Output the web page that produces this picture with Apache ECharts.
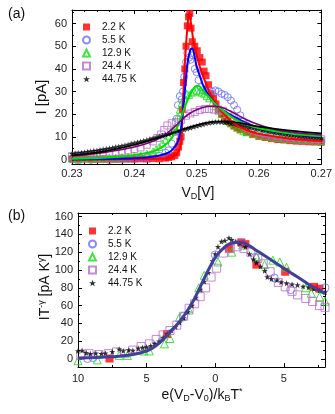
<!DOCTYPE html>
<html>
<head>
<meta charset="utf-8">
<script src="https://cdn.jsdelivr.net/npm/echarts@6/dist/echarts.min.js"></script>
<style>
  html, body { margin: 0; padding: 0; background: #fff; }
  #main { width: 335px; height: 414px; }
</style>
</head>
<body>
<div id="main"></div>
<script>
// legend names (same for both panels)
const names = ['2.2 K', '5.5 K', '12.9 K', '24.4 K', '44.75 K'];

// tick labels
const xTicksA = [0.23, 0.24, 0.25, 0.26, 0.27];
const yTicksA = [0, 10, 20, 30, 40, 50, 60];
const xTicksB = [-10, -5, 0, 5];
const yTicksB = [0, 20, 40, 60, 80, 100, 120, 140, 160];

// (a) I vs V_D, measured points [V, pA]
const redA = [[0.230,0.2],[0.231,0.1],[0.232,0.3],[0.233,0.2],[0.234,0.1],[0.235,0.3],[0.236,0.2],[0.237,0.1],[0.238,0.3],[0.239,0.2],[0.240,0.2],[0.241,0.3],[0.242,0.2],[0.243,0.4],[0.244,0.3],[0.245,0.6],[0.2455,0.9],[0.246,1.2],[0.2465,1.8],[0.2468,3],[0.2471,5.5],[0.2473,8],[0.2475,10],[0.2477,22],[0.2479,34],[0.2481,40],[0.2483,50],[0.2485,59],[0.2487,63],[0.2489,64.5],[0.2491,58],[0.2493,52],[0.2497,50],[0.2501,48],[0.2505,45],[0.2509,43],[0.2512,39],[0.2515,37],[0.2519,33],[0.2523,29],[0.2527,27],[0.2531,24.5],[0.2535,22],[0.254,20],[0.2545,18.5],[0.255,17],[0.2555,15.8],[0.256,14.8],[0.2565,14],[0.257,13.2],[0.258,12],[0.259,11],[0.260,10.2],[0.261,9.7],[0.262,9.2],[0.263,8.8],[0.264,8.6],[0.265,8.3],[0.266,8.1],[0.267,8],[0.268,7.8],[0.269,7.7],[0.270,7.6]];
const blueA = [[0.230,0],[0.231,-0.3],[0.232,0.2],[0.233,-0.2],[0.234,0.1],[0.235,0],[0.236,-0.3],[0.237,0.2],[0.238,0],[0.239,0.3],[0.240,0.2],[0.241,0.6],[0.242,0.8],[0.243,1.2],[0.244,1.6],[0.245,3],[0.2455,4],[0.246,7],[0.2465,12],[0.2468,18],[0.247,24],[0.2473,28],[0.2476,26.5],[0.2478,30],[0.248,36.5],[0.2483,43],[0.2485,47],[0.2488,45],[0.249,44],[0.2493,46],[0.2497,40],[0.250,38.5],[0.2503,35],[0.2507,32],[0.251,30.5],[0.2515,30],[0.252,29.5],[0.2525,30],[0.253,30.5],[0.2535,30],[0.254,29],[0.2545,28.5],[0.255,27.5],[0.2555,26],[0.256,24],[0.2565,22],[0.257,19.5],[0.2575,17],[0.258,15],[0.259,13],[0.260,11.8],[0.261,11],[0.262,10.3],[0.263,9.8],[0.264,9.4],[0.265,9],[0.266,8.8],[0.267,8.5],[0.268,8.3],[0.269,8.1],[0.270,8]];
const greenA = [[0.230,0.5],[0.231,0],[0.232,0.6],[0.233,0.2],[0.234,0.7],[0.235,0.4],[0.236,0.9],[0.237,0.8],[0.238,1.1],[0.239,1.2],[0.240,1.6],[0.241,1.8],[0.242,2.6],[0.243,3.5],[0.2435,4.5],[0.244,5.5],[0.2445,7],[0.245,8.5],[0.2455,10.5],[0.246,12.5],[0.2465,14.5],[0.247,19],[0.2473,22],[0.2476,25],[0.248,27],[0.2484,29],[0.2488,28.5],[0.2492,29.5],[0.2496,30],[0.250,30.5],[0.2504,30],[0.2508,29.5],[0.2512,29],[0.2516,28],[0.252,27],[0.2525,25],[0.253,23.5],[0.2535,21.5],[0.254,20],[0.2545,18.5],[0.255,17],[0.2555,16],[0.256,15],[0.2565,14],[0.257,13.2],[0.2575,12.5],[0.258,12],[0.259,11.2],[0.260,10.7],[0.261,10.2],[0.262,9.8],[0.263,9.5],[0.264,9.2],[0.265,9],[0.266,8.8],[0.267,8.6],[0.268,8.5],[0.269,8.3],[0.270,8.2]];
const purpleA = [[0.230,1.5],[0.231,1.8],[0.232,2],[0.233,2.2],[0.234,2.5],[0.235,2.7],[0.236,3],[0.237,3.3],[0.238,3.6],[0.239,4],[0.240,4.6],[0.241,5.3],[0.242,6.5],[0.243,8],[0.2437,9.5],[0.2443,11],[0.2448,13],[0.2453,15],[0.246,16],[0.2467,16.5],[0.2475,17.5],[0.2483,19.3],[0.249,20.3],[0.2497,21],[0.2505,21.8],[0.2513,22.3],[0.252,22.3],[0.2528,22],[0.2535,22],[0.2542,21.5],[0.255,20],[0.2557,18.5],[0.2565,17],[0.2573,15.5],[0.258,14.3],[0.259,13.2],[0.260,12.3],[0.261,11.6],[0.262,11],[0.263,10.5],[0.264,10.2],[0.265,9.9],[0.266,9.6],[0.267,9.4],[0.268,9.2],[0.269,9],[0.270,8.9]];
const starA = [[0.230,2.5],[0.2305,2.7],[0.231,2.9],[0.2315,3],[0.232,3.2],[0.2325,3.4],[0.233,3.6],[0.2335,3.8],[0.234,4],[0.2345,4.3],[0.235,4.5],[0.2355,4.7],[0.236,5],[0.2365,5.2],[0.237,5.5],[0.2375,5.7],[0.238,6],[0.2385,6.3],[0.239,6.6],[0.2395,7],[0.240,7.3],[0.2405,7.6],[0.241,7.9],[0.2415,8.3],[0.242,8.6],[0.2425,9],[0.243,9.4],[0.2435,9.8],[0.244,10.2],[0.2445,10.6],[0.245,11],[0.2455,11.3],[0.246,11.7],[0.2465,12.1],[0.247,12.5],[0.2475,12.8],[0.248,13.2],[0.2485,13.6],[0.249,14],[0.2495,14.4],[0.250,14.8],[0.2505,15.2],[0.251,15.5],[0.2515,15.9],[0.252,16.2],[0.2525,16.4],[0.253,16.6],[0.2535,16.7],[0.254,16.6],[0.2545,16.4],[0.255,16.2],[0.2555,16],[0.256,15.8],[0.2565,15.5],[0.257,15.2],[0.2575,14.8],[0.258,14.5],[0.2585,14.2],[0.259,13.9],[0.2595,13.6],[0.260,13.3],[0.2605,13],[0.261,12.7],[0.2615,12.5],[0.262,12.2],[0.2625,12],[0.263,11.7],[0.2635,11.5],[0.264,11.3],[0.2645,11.1],[0.265,10.9],[0.2655,10.8],[0.266,10.6],[0.2665,10.4],[0.267,10.3],[0.2675,10.1],[0.268,10],[0.2685,9.8],[0.269,9.7],[0.2695,9.6],[0.270,9.5]];

// (a) fit curves
const redFitA = [[0.230,0],[0.244,0.3],[0.246,1],[0.247,3],[0.2475,8],[0.2478,25],[0.2481,42],[0.2485,58],[0.2488,65],[0.2491,60],[0.2495,52],[0.250,46],[0.2505,41],[0.251,37],[0.252,30],[0.253,25],[0.254,21],[0.256,16],[0.258,13],[0.260,11.3],[0.265,9.2],[0.270,8.2]];
const blueFitA = [[0.230,0],[0.240,0.5],[0.243,1.2],[0.245,2.5],[0.246,4],[0.247,8],[0.2475,14],[0.248,27],[0.2485,42],[0.249,48.5],[0.2493,49],[0.2497,45],[0.250,41],[0.2505,37],[0.251,33],[0.252,28],[0.253,24.5],[0.254,22],[0.2556,19.5],[0.258,16],[0.260,14],[0.265,11.5],[0.270,10]];
const greenFitA = [[0.230,0.3],[0.235,0.8],[0.240,2],[0.243,3.5],[0.245,6.5],[0.246,9.5],[0.247,15],[0.248,22.5],[0.249,29],[0.2497,32],[0.2503,32.5],[0.251,30.5],[0.252,27.5],[0.253,24.5],[0.254,22],[0.256,18],[0.258,15.5],[0.260,13.8],[0.265,11.5],[0.270,10.2]];
const purpleFitA = [[0.230,1.5],[0.235,3],[0.240,5.5],[0.243,8],[0.245,11],[0.2465,14.5],[0.248,18.5],[0.249,20.5],[0.250,22],[0.2515,23.3],[0.253,23.5],[0.2545,22.5],[0.256,20.5],[0.258,17.5],[0.260,15.3],[0.263,13],[0.266,11.8],[0.270,10.8]];
const blackFitA = [[0.230,1.8],[0.235,3.5],[0.240,6.5],[0.245,10.5],[0.248,13.5],[0.250,15.2],[0.2525,16.6],[0.255,16.8],[0.2575,15.8],[0.260,14.5],[0.265,12.7],[0.270,11.5]];

// (b) scaled data [e(VD-V0)/kBT*, I T^-g]
const redB = [[-7.7,0.5],[-3.5,28],[1.0,124],[1.9,131],[2.2,129],[3.0,106],[5.1,98],[7.2,81],[7.6,79]];
const blueB = [[-9.3,0.5],[-8.9,1.5],[-2.3,48],[0.0,117],[1.9,130],[2.9,114],[4.3,91],[5.5,78],[8.0,80]];
const greenB = [[-10,-2],[-8.6,-1],[-7.0,4],[-6.4,4],[-5.2,9],[-4.8,9],[-3.7,17],[-3.3,23],[-2.6,47],[-1.9,55],[-1.2,80],[-0.8,94],[0.2,109],[1.2,120],[2.0,128],[3.0,115],[3.6,106],[4.2,111],[4.7,109],[5.2,103],[6.6,80],[7.0,74],[7.6,70],[8.0,65]];
const purpleB = [[-9.8,4],[-9.2,6],[-8.5,5],[-7.8,6],[-7.2,8],[-6.6,6],[-6.0,10],[-5.4,14],[-4.8,17],[-4.3,22],[-3.8,27],[-3.3,32],[-2.8,38],[-2.3,48],[-1.9,57],[-1.5,62],[-1.1,70],[-0.7,80],[-0.3,92],[0.1,102],[0.6,119],[1.1,124],[1.6,126],[2.1,124],[2.6,120],[3.1,113],[3.5,107],[4.0,98],[4.6,86],[5.1,81],[5.6,76],[6.0,72],[6.6,68],[7.1,64.5],[7.6,60],[8.0,58]];
const starB = [[-10,9],[-9.7,9.5],[-9.4,7],[-9.1,6],[-8.7,6.5],[-8.3,6],[-8.0,6.5],[-7.5,8],[-7.0,11],[-6.7,9],[-6.3,10],[-6.0,9.5],[-5.6,12],[-5.3,13],[-5.0,13.5],[-4.7,15],[-4.4,17.5],[-4.1,20],[-3.8,24],[-3.5,28],[-3.2,32],[-2.9,36],[-2.6,41],[-2.3,46],[-2.0,53],[-1.7,60],[-1.4,69],[-1.1,78],[-0.8,87],[-0.5,97],[-0.2,110],[0.0,118],[0.2,126],[0.45,132],[0.7,133],[1.0,136],[1.2,134],[1.5,132],[1.8,130],[2.2,126],[2.5,118],[2.8,112],[3.0,108],[3.3,104],[3.6,99],[3.8,92],[4.1,90],[4.5,88.5],[4.8,86.5],[5.2,85],[5.6,84],[6.0,83],[6.4,81.5],[6.8,80.5],[7.2,79],[7.6,77],[8.0,75]];
const curveB = [[-10,1],[-9,1.5],[-8,2.2],[-7,3.2],[-6,5],[-5,9],[-4.5,13],[-4,19],[-3.5,27],[-3,35],[-2.5,44],[-2,55],[-1.5,68],[-1,84],[-0.5,100],[0,114],[0.5,123],[1,129],[1.5,131],[2,130.5],[2.5,127],[3,122],[3.5,117],[4,112],[4.5,107],[5,102],[5.5,97],[6,92],[6.5,87],[7,82],[7.5,77.5],[8,73.5]];

const FONT = 'Liberation Sans, Arial, sans-serif';
const starPath = 'path://M0,-10L2.35,-3.24L9.51,-3.09L3.8,1.24L5.88,8.09L0,4L-5.88,8.09L-3.8,1.24L-9.51,-3.09L-2.35,-3.24Z';

// marker style per temperature
const marks = [
  { symbol: 'rect', size: 7, style: { color: '#ff0000' } },
  { symbol: 'circle', size: 7, style: { color: 'rgba(0,0,0,0)', borderColor: '#6a6aff', borderWidth: 1 } },
  { symbol: 'triangle', size: 7, style: { color: 'rgba(0,0,0,0)', borderColor: '#10e010', borderWidth: 1 } },
  { symbol: 'rect', size: 7, style: { color: 'rgba(0,0,0,0)', borderColor: '#b86ccc', borderWidth: 1 } },
  { symbol: starPath, size: 6, style: { color: '#000' } },
];

function subTicks(majors, step, min, max) {
  const out = [];
  for (let v = min; v <= max + 1e-9; v += step) {
    const r = Math.round(v * 1e6) / 1e6;
    if (!majors.some(m => Math.abs(m - r) < 1e-9)) out.push(r);
  }
  return out;
}

// one axis with labels + major ticks, one overlay with minor ticks
function axes(gridIndex, position, min, max, majors, minors, showLabel, fmt, margin) {
  return [
    {
      type: 'value', gridIndex, position, min, max,
      axisLine: { show: true, onZero: false, lineStyle: { color: '#000', width: 1 } },
      splitLine: { show: false },
      axisTick: { show: true, inside: true, length: 4, customValues: majors, lineStyle: { color: '#000' } },
      axisLabel: {
        show: showLabel, customValues: majors, margin: margin || 5,
        color: '#222', fontSize: 11, fontFamily: FONT, formatter: fmt,
      },
    },
    {
      type: 'value', gridIndex, position, min, max,
      axisLine: { show: false, onZero: false },
      splitLine: { show: false },
      axisTick: { show: true, inside: true, length: 2, customValues: minors, lineStyle: { color: '#000' } },
      axisLabel: { show: false },
    },
  ];
}

const xMinorA = subTicks(xTicksA, 0.002, 0.23, 0.27);
const yMinorA = subTicks(yTicksA, 5, 0, 65);
const xMinorB = subTicks(xTicksB, 2.5, -10, 7.5);
const yMinorB = subTicks(yTicksB, 10, 0, 160);

const xAxis = [
  ...axes(0, 'bottom', 0.23, 0.27, xTicksA, xMinorA, true, v => v.toFixed(2), 4),
  ...axes(0, 'top', 0.23, 0.27, xTicksA, xMinorA, false),
  ...axes(1, 'bottom', -10, 8, xTicksB, xMinorB, true, v => String(Math.abs(v)), 6),
  ...axes(1, 'top', -10, 8, xTicksB, xMinorB, false),
];
const yAxis = [
  ...axes(0, 'left', -2, 66, yTicksA, yMinorA, true, null, 5),
  ...axes(0, 'right', -2, 66, yTicksA, yMinorA, false),
  ...axes(1, 'left', -9, 164, yTicksB, yMinorB, true, null, 5),
  ...axes(1, 'right', -9, 164, yTicksB, yMinorB, false),
];

const pointsA = [redA, blueA, greenA, purpleA, starA];
const pointsB = [redB, blueB, greenB, purpleB, starB];
const fitsA = [redFitA, blueFitA, greenFitA, purpleFitA, blackFitA];
const fitColors = ['#ff0000', '#0000ff', '#00e000', '#7f007f', '#000000'];
const fitWidths = [2, 2, 2, 1.6, 1.8];

const series = [];
pointsA.forEach((d, i) => {
  series.push({
    name: names[i], type: 'scatter', xAxisIndex: 0, yAxisIndex: 0,
    symbol: marks[i].symbol, symbolSize: marks[i].size, itemStyle: marks[i].style,
    data: d, z: 2,
  });
});
fitsA.forEach((d, i) => {
  series.push({
    name: 'fit ' + names[i], type: 'line', xAxisIndex: 0, yAxisIndex: 0,
    showSymbol: false, smooth: 0.3, data: d, z: 3,
    lineStyle: { color: fitColors[i], width: fitWidths[i] },
  });
});
pointsB.forEach((d, i) => {
  series.push({
    name: names[i], type: 'scatter', xAxisIndex: 4, yAxisIndex: 4,
    symbol: marks[i].symbol, symbolSize: i === 4 ? 6 : 8, itemStyle: marks[i].style,
    data: d, z: 2,
  });
});
series.push({
  name: 'scaling', type: 'line', xAxisIndex: 4, yAxisIndex: 4,
  showSymbol: false, smooth: 0.4, data: curveB, z: 3,
  lineStyle: { color: '#3f3f9c', width: 3 },
});

const legendBase = {
  orient: 'vertical', data: names, itemWidth: 7, itemHeight: 7, itemGap: 3,
  textStyle: { fontSize: 10, fontFamily: FONT, color: '#111', lineHeight: 7, padding: [0, 0, 0, 7] },
};

const normal = { fontSize: 14, fontFamily: FONT, fill: '#111', lineHeight: 16 };
const small = { fontSize: 9, fontFamily: FONT, fill: '#111', lineHeight: 16 };

const option = {
  animation: false,
  backgroundColor: '#fff',
  grid: [
    { left: 72, top: 10, width: 251, height: 154 },
    { left: 78, top: 213, width: 247, height: 154 },
  ],
  xAxis,
  yAxis,
  legend: [
    Object.assign({}, legendBase, { left: 77, top: 17 }),
    Object.assign({}, legendBase, { left: 83, top: 221 }),
  ],
  graphic: [
    { type: 'text', x: 8, y: 7, style: { text: '(a)', font: '14px ' + FONT, fill: '#111' } },
    { type: 'text', x: 8, y: 209, style: { text: '(b)', font: '14px ' + FONT, fill: '#111' } },
    {
      type: 'text', x: 42, y: 97, rotation: Math.PI / 2,
      style: { text: 'I [pA]', font: '15px ' + FONT, fill: '#111', align: 'center', verticalAlign: 'middle' },
    },
    {
      type: 'text', x: 198, y: 193,
      style: {
        text: '{n|V}{s|D}{n|[V]}', align: 'center', verticalAlign: 'middle',
        rich: { n: normal, s: Object.assign({}, small, { verticalAlign: 'bottom', lineHeight: 11 }) },
      },
    },
    {
      type: 'text', x: 45, y: 287, rotation: Math.PI / 2,
      style: {
        text: '{n|IT}{p|-γ}{n| [pA K}{p|γ}{n|]}', align: 'center', verticalAlign: 'middle',
        rich: { n: normal, p: Object.assign({}, small, { verticalAlign: 'top', lineHeight: 10 }) },
      },
    },
    {
      type: 'text', x: 202, y: 395,
      style: {
        text: '{n|e(V}{s|D}{n|-V}{s|0}{n|)/k}{s|B}{n|T}{p|*}', align: 'center', verticalAlign: 'middle',
        rich: {
          n: normal,
          s: Object.assign({}, small, { verticalAlign: 'bottom', lineHeight: 11 }),
          p: Object.assign({}, small, { verticalAlign: 'top', lineHeight: 10 }),
        },
      },
    },
  ],
  series,
};

const myChart = echarts.init(document.getElementById('main'), null, { renderer: 'canvas' });
myChart.setOption(option);
</script>
</body>
</html>
